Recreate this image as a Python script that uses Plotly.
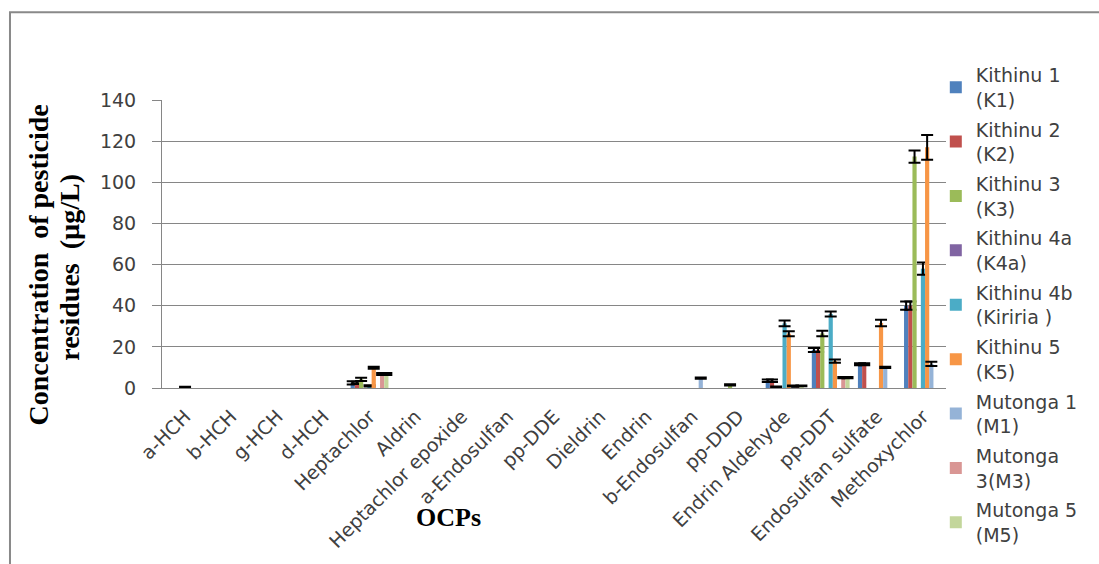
import plotly.graph_objects as go

# OCP residues by site (µg/L); None = not detected
categories = ["a-HCH", "b-HCH", "g-HCH", "d-HCH", "Heptachlor", "Aldrin",
              "Heptachlor epoxide", "a-Endosulfan", "pp-DDE", "Dieldrin", "Endrin",
              "b-Endosulfan", "pp-DDD", "Endrin Aldehyde", "pp-DDT",
              "Endosulfan sulfate", "Methoxychlor"]

N = None
k1 = [N, N, N, N, 2.5, N, N, N, N, N, N, N, N, 3.5, 18.5, 11.5, 40.0]
k1_err = [N, N, N, N, 0.8, N, N, N, N, N, N, N, N, 0.6, 1.0, 0.5, 2.0]
k2 = [N, N, N, N, 2.5, N, N, N, N, N, N, N, N, 3.5, 18.5, 11.5, 40.0]
k2_err = [N, N, N, N, 0.5, N, N, N, N, N, N, N, N, 0.6, 1.0, 0.5, 2.0]
k3 = [N, N, N, N, 4.2, N, N, N, N, N, N, N, 1.5, 0.5, 26.5, N, 112.5]
k3_err = [N, N, N, N, 0.8, N, N, N, N, N, N, N, 0.3, 0.2, 1.3, N, 3.0]
k4a = [N] * 17
k4a_err = [N] * 17
k4b = [0.4, N, N, N, 1.0, N, N, N, N, N, N, N, N, 31.4, 36.0, N, 58.0]
k4b_err = [0.2, N, N, N, 0.3, N, N, N, N, N, N, N, N, 1.4, 1.2, N, 3.0]
k5 = [N, N, N, N, 9.8, N, N, N, N, N, N, N, N, 26.4, 13.1, 31.6, 117.0]
k5_err = [N, N, N, N, 0.5, N, N, N, N, N, N, N, N, 1.2, 0.8, 1.6, 6.0]
m1 = [N, N, N, N, N, N, N, N, N, N, N, 4.8, N, 1.0, N, 10.0, 11.7]
m1_err = [N, N, N, N, N, N, N, N, N, N, N, 0.3, N, 0.2, N, 0.3, 1.0]
m3 = [N, N, N, N, 6.8, N, N, N, N, N, N, N, N, 0.8, 5.0, N, N]
m3_err = [N, N, N, N, 0.5, N, N, N, N, N, N, N, N, 0.2, 0.3, N, N]
m5 = [N, N, N, N, 6.8, N, N, N, N, N, N, N, N, 1.0, 5.0, N, N]
m5_err = [N, N, N, N, 0.5, N, N, N, N, N, N, N, N, 0.2, 0.3, N, N]

series = [
    ("Kithinu 1<br>(K1)", k1, k1_err, "#4F81BD"),
    ("Kithinu 2<br>(K2)", k2, k2_err, "#C0504D"),
    ("Kithinu 3<br>(K3)", k3, k3_err, "#9BBB59"),
    ("Kithinu 4a<br>(K4a)", k4a, k4a_err, "#8064A2"),
    ("Kithinu 4b<br>(Kiriria )", k4b, k4b_err, "#4BACC6"),
    ("Kithinu 5<br>(K5)", k5, k5_err, "#F79646"),
    ("Mutonga 1<br>(M1)", m1, m1_err, "#95B3D7"),
    ("Mutonga<br>3(M3)", m3, m3_err, "#D99694"),
    ("Mutonga 5<br>(M5)", m5, m5_err, "#C3D69B"),
]

fig = go.Figure()
for i, (name, vals, errs, color) in enumerate(series):
    fig.add_trace(go.Bar(
        x=categories, y=vals, name=name, legendgroup=f"g{i}",
        marker=dict(color=color, line=dict(width=0)),
        error_y=dict(type="data", array=errs, visible=True,
                     color="black", thickness=2, width=6),
    ))

GRID = "#868686"
TXT = "#404040"
SANS = "DejaVu Sans"
SERIF = "Liberation Serif"

fig.update_layout(
    width=1099, height=564,
    margin=dict(l=162, r=153, t=100, b=174),
    paper_bgcolor="white", plot_bgcolor="white",
    barmode="group", bargap=0.18, bargroupgap=0,
    showlegend=True,
    legend=dict(x=0.987, xanchor="left", y=1.153, yanchor="top",
                font=dict(family=SANS, size=19, color=TXT),
                bgcolor="rgba(0,0,0,0)", itemwidth=30, maxheight=600,
                tracegroupgap=2, traceorder="grouped"),
    xaxis=dict(type="category", tickangle=-45,
               tickfont=dict(family=SANS, size=19, color=TXT),
               showline=True, linecolor=GRID, linewidth=1,
               showgrid=False, ticks="outside", ticklen=9,
               tickcolor="rgba(0,0,0,0)"),
    yaxis=dict(range=[0, 140], dtick=20, showgrid=True, gridcolor=GRID,
               gridwidth=1, zeroline=False, showline=True, linecolor=GRID,
               linewidth=1, ticks="outside", ticklen=9, tickcolor=GRID,
               ticklabelstandoff=12,
               tickfont=dict(family=SANS, size=19, color=TXT)),
    annotations=[
        dict(text="<b>OCPs</b>", x=0.3648, y=-0.45, xref="paper", yref="paper",
             showarrow=False, xanchor="center", yanchor="middle",
             font=dict(family=SERIF, size=26, color="black")),
        dict(text="<b>Concentration  of pesticide</b>", x=-0.158, y=0.426,
             xref="paper", yref="paper", showarrow=False, textangle=-90,
             xanchor="center", yanchor="middle",
             font=dict(family=SERIF, size=28, color="black")),
        dict(text="<b>residues  (µg/L)</b>", x=-0.119, y=0.42,
             xref="paper", yref="paper", showarrow=False, textangle=-90,
             xanchor="center", yanchor="middle",
             font=dict(family=SERIF, size=28, color="black")),
    ],
    shapes=[
        dict(type="rect", xref="paper", yref="paper",
             x0=-0.1939, x1=1.21, y0=-0.65, y1=1.305,
             line=dict(color="#898989", width=2), fillcolor="rgba(0,0,0,0)",
             layer="below"),
    ],
)

fig.write_html("out.html")
